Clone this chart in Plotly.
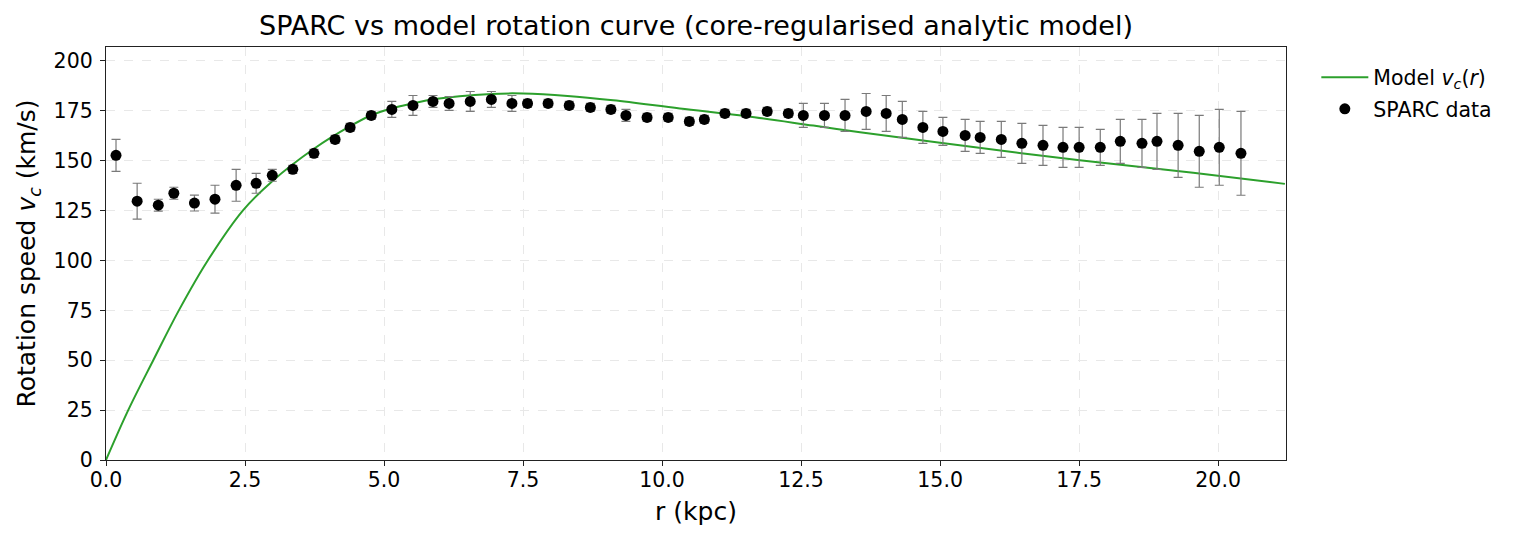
import plotly.graph_objects as go

# SPARC data
r_data = [0.18, 0.56, 0.94, 1.22, 1.59, 1.96, 2.34, 2.70, 2.99, 3.36, 3.74, 4.12, 4.39, 4.77,
          5.14, 5.52, 5.88, 6.17, 6.55, 6.93, 7.30, 7.58, 7.95, 8.33, 8.71, 9.08, 9.35, 9.73,
          10.11, 10.49, 10.76, 11.13, 11.51, 11.89, 12.27, 12.54, 12.92, 13.29, 13.67, 14.03,
          14.32, 14.69, 15.05, 15.45, 15.72, 16.10, 16.47, 16.85, 17.21, 17.50, 17.88, 18.24,
          18.63, 18.90, 19.28, 19.66, 20.02, 20.41]
v_data = [152.7, 129.7, 127.7, 133.7, 128.8, 130.7, 137.7, 138.7, 142.7, 145.7, 153.7, 160.7,
          166.7, 172.7, 175.7, 177.7, 179.7, 178.7, 179.7, 180.7, 178.7, 178.7, 178.7, 177.7,
          176.7, 175.7, 172.7, 171.7, 171.7, 169.7, 170.7, 173.7, 173.7, 174.7, 173.7, 172.7,
          172.7, 172.7, 174.7, 173.7, 170.7, 166.7, 164.7, 162.7, 161.7, 160.7, 158.7, 157.7,
          156.7, 156.7, 156.7, 159.7, 158.7, 159.7, 157.7, 154.7, 156.7, 153.7]
v_err = [8, 9, 3, 3, 4, 7, 8, 5, 3, 2, 2, 2, 2, 2, 4, 5, 3, 3.5, 5, 4, 4, 2, 2, 2, 2, 2, 3, 2,
         2, 2, 2, 2, 2, 2, 2, 6, 6, 8, 9, 9, 9, 8, 7, 8, 8, 9, 10, 10, 10, 10, 9, 11, 12, 14,
         16, 18, 19, 21]

# Model curve samples
r_model = [0.0, 0.40, 0.85, 1.31, 1.83, 2.46, 3.0, 3.74, 4.39, 4.77, 5.14, 5.52, 5.88, 6.93,
           7.5, 8.3, 9.12, 10.32, 11.52, 12.72, 13.56, 15.0, 17.51, 19.55, 21.2]
v_model = [0.0, 25, 50, 75, 100, 125, 140, 156, 167.3, 172.8, 176.2, 178.7, 180.8, 183.5,
           183.7, 182.5, 180.3, 176.2, 172.3, 167.6, 164.3, 159.0, 150.2, 144.0, 138.4]

x_ticks = [0, 2.5, 5, 7.5, 10, 12.5, 15, 17.5, 20]
y_ticks = [0, 25, 50, 75, 100, 125, 150, 175, 200]

FONT = "DejaVu Sans"
TICK_SIZE = 20.5
LABEL_SIZE = 25
TITLE_SIZE = 27

# the page body has an 8 px margin, so the figure is sized to fit the window
W, H = 1509, 534

fig = go.Figure()
fig.add_trace(go.Scatter(
    x=r_model, y=v_model, mode="lines", line=dict(color="#2ca02c", width=2, shape="spline"),
    name="Model <i>v</i><sub><i>c</i></sub>(<i>r</i>)", legendgroup="model"))
fig.add_trace(go.Scatter(
    x=r_data, y=v_data, mode="markers", name="SPARC data", legendgroup="data",
    marker=dict(color="black", size=11),
    error_y=dict(type="data", array=v_err, visible=True, color="#7a7a7a", thickness=1.2, width=4.5)))

axis_common = dict(
    showline=True, linecolor="#222222", linewidth=1.3, mirror=True,
    ticks="outside", ticklen=5, tickwidth=1.3, tickcolor="#222222",
    showgrid=True, gridcolor="#e8e8e8", griddash="dash", gridwidth=1,
    zeroline=False, tickfont=dict(family=FONT, size=TICK_SIZE, color="black"))

fig.update_xaxes(range=[0, 21.22], tickvals=x_ticks, ticktext=[f"{t:.1f}" for t in x_ticks],
                 ticklabelstandoff=-4,
                 title=dict(text="r (kpc)", font=dict(family=FONT, size=LABEL_SIZE, color="black"),
                            standoff=11),
                 **axis_common)
fig.update_yaxes(range=[0, 207], tickvals=y_ticks, ticklabelstandoff=3,
                 title=dict(text="Rotation speed <i>v</i><sub><i>c</i></sub> (km/s)",
                            font=dict(family=FONT, size=LABEL_SIZE, color="black"), standoff=10),
                 **axis_common)

fig.update_layout(
    width=W, height=H,
    margin=dict(l=98, r=231, t=39, b=82),
    plot_bgcolor="white", paper_bgcolor="white",
    font=dict(family=FONT, color="black"),
    title=dict(text="SPARC vs model rotation curve (core-regularised analytic model)",
               font=dict(family=FONT, size=TITLE_SIZE, color="black"),
               x=0.5, xref="paper", xanchor="center",
               y=1 - 18 / H, yref="container", yanchor="middle"),
    legend=dict(x=1.0257, y=0.975, xanchor="left", yanchor="top",
                font=dict(family=FONT, size=TICK_SIZE, color="black"),
                itemwidth=47, traceorder="grouped", tracegroupgap=2,
                bgcolor="rgba(0,0,0,0)", borderwidth=0),
    showlegend=True,
)

fig.write_html("out.html")
